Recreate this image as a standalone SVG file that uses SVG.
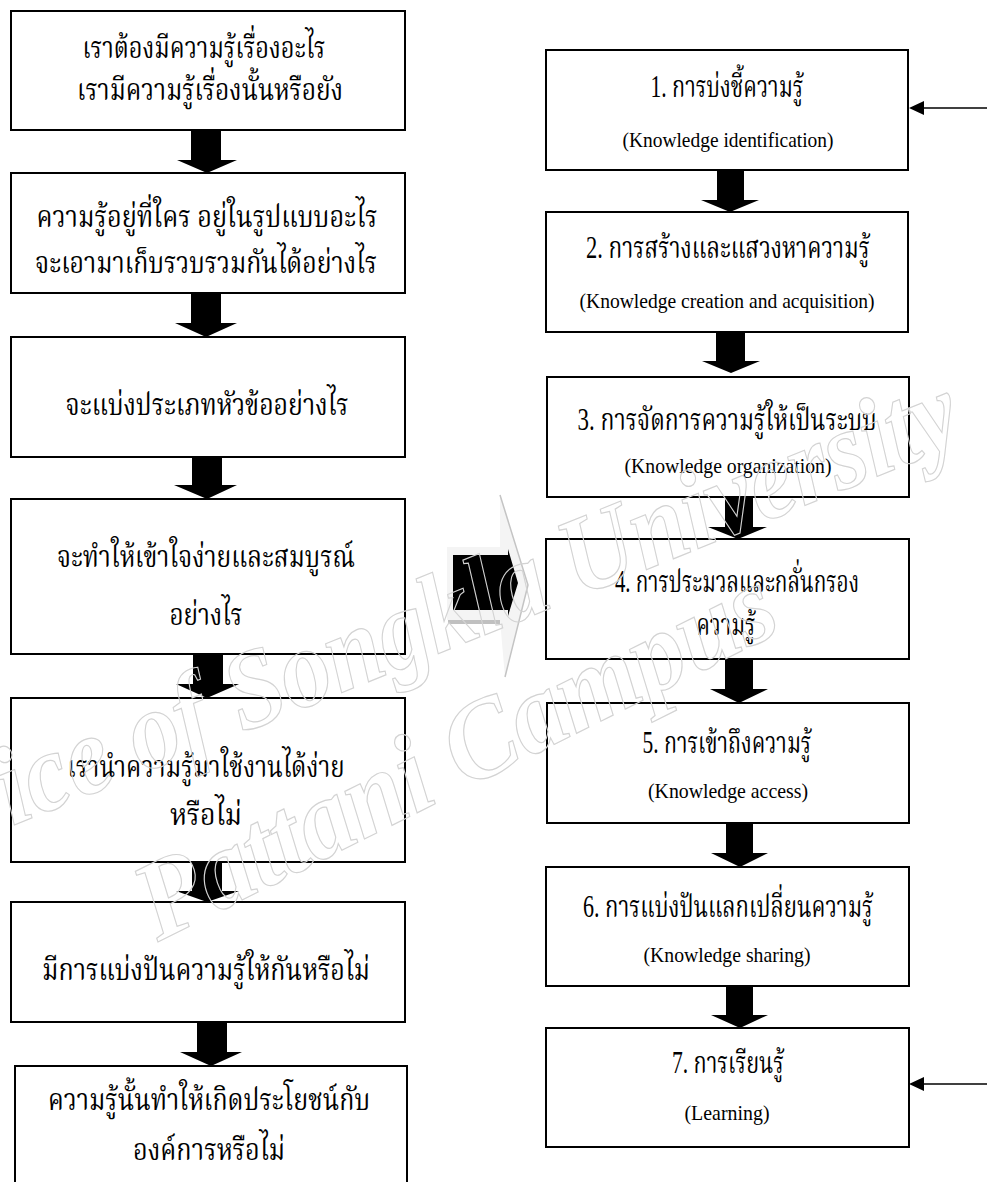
<svg xmlns="http://www.w3.org/2000/svg" width="987" height="1182" viewBox="0 0 987 1182">
<style>
.box{fill:#fff;stroke:#000;stroke-width:2}
.th{font-family:"Liberation Serif","Noto Serif Thai","Noto Sans Thai",serif;font-size:31px;fill:#000;text-anchor:middle}
.en{font-family:"Liberation Serif",serif;font-size:22px;fill:#000;text-anchor:middle}
.blk{fill:#000}
.wm{font-family:"Liberation Serif",serif;font-style:italic;font-weight:bold;font-size:112px;fill:none;stroke:#d3d3d3;stroke-width:1.2}
.fb{stroke:#000;stroke-width:1.5;fill:none}
</style>
<rect width="987" height="1182" fill="#fff"/>

<g id="big-arrow">
<polygon points="447,547 500,547 500,495 528,585 505,677 500,620 447,620" fill="#f4f4f4"/>
<polyline points="500,495 528,585 505,677" fill="none" stroke="#c4c4c4" stroke-width="1.5"/>
<rect x="448" y="620" width="52" height="4" fill="#c0c0c0"/>
<polygon points="453,555 508,555 508,549 518,583 508,616 508,610 453,610" fill="#000"/>
</g>

<g id="connectors">
<polygon class="blk" points="191,130 221,130 221,160 237,160 207,173 177,160 191,160"/>
<polygon class="blk" points="191,293 221,293 221,323 237,323 206,337 175,323 191,323"/>
<polygon class="blk" points="192,457 222,457 222,485 237,485 207,499 174,485 192,485"/>
<polygon class="blk" points="193,654 223,654 223,684 239,684 207,698 176,684 193,684"/>
<polygon class="blk" points="192,862 222,862 222,891 239,891 207,902 176,891 192,891"/>
<polygon class="blk" points="197,1022 227,1022 227,1052 242,1052 211,1066 180,1052 197,1052"/>
<polygon class="blk" points="717,170 744,170 744,200 759,200 730,212 701,200 717,200"/>
<polygon class="blk" points="716,332 745,332 745,361 760,361 731,373 702,361 716,361"/>
<polygon class="blk" points="725,497 753,497 753,527 767,527 738,539 708,527 725,527"/>
<polygon class="blk" points="725,659 753,659 753,689 768,689 739,703 710,689 725,689"/>
<polygon class="blk" points="726,823 753,823 753,853 768,853 740,867 711,853 726,853"/>
<polygon class="blk" points="726,986 753,986 753,1015 768,1015 740,1028 711,1015 726,1015"/>
<line class="fb" x1="987" y1="108" x2="922" y2="108"/>
<polygon class="blk" points="909,108 924,101 924,115"/>
<line class="fb" x1="987" y1="1084" x2="922" y2="1084"/>
<polygon class="blk" points="909,1084 924,1077 924,1091"/>
</g>

<g id="L1"><rect class="box" x="11" y="11" width="394" height="119"/>
<text class="th" x="204" y="58" textLength="243" lengthAdjust="spacingAndGlyphs">เราต้องมีความรู้เรื่องอะไร</text>
<text class="th" x="210" y="100" textLength="266" lengthAdjust="spacingAndGlyphs">เรามีความรู้เรื่องนั้นหรือยัง</text></g>
<g id="L2"><rect class="box" x="11" y="173" width="394" height="120"/>
<text class="th" x="207" y="227" textLength="341" lengthAdjust="spacingAndGlyphs">ความรู้อยู่ที่ใคร อยู่ในรูปแบบอะไร</text>
<text class="th" x="206" y="273" textLength="342" lengthAdjust="spacingAndGlyphs">จะเอามาเก็บรวบรวมกันได้อย่างไร</text></g>
<g id="L3"><rect class="box" x="11" y="337" width="394" height="120"/>
<text class="th" x="207" y="415" textLength="283" lengthAdjust="spacingAndGlyphs">จะแบ่งประเภทหัวข้ออย่างไร</text></g>
<g id="L4"><rect class="box" x="11" y="499" width="394" height="155"/>
<text class="th" x="206" y="567" textLength="298" lengthAdjust="spacingAndGlyphs">จะทำให้เข้าใจง่ายและสมบูรณ์</text>
<text class="th" x="206" y="625" textLength="73" lengthAdjust="spacingAndGlyphs">อย่างไร</text></g>
<g id="L5"><rect class="box" x="11" y="698" width="394" height="164"/>
<text class="th" x="206" y="777" textLength="277" lengthAdjust="spacingAndGlyphs">เรานำความรู้มาใช้งานได้ง่าย</text>
<text class="th" x="206" y="825" textLength="72" lengthAdjust="spacingAndGlyphs">หรือไม่</text></g>
<g id="L6"><rect class="box" x="11" y="902" width="394" height="120"/>
<text class="th" x="206" y="980" textLength="328" lengthAdjust="spacingAndGlyphs">มีการแบ่งปันความรู้ให้กันหรือไม่</text></g>
<g id="L7"><rect class="box" x="15" y="1066" width="392" height="130"/>
<text class="th" x="209" y="1110" textLength="322" lengthAdjust="spacingAndGlyphs">ความรู้นั้นทำให้เกิดประโยชน์กับ</text>
<text class="th" x="209" y="1160" textLength="152" lengthAdjust="spacingAndGlyphs">องค์การหรือไม่</text></g>

<g id="R1"><rect class="box" x="546" y="50" width="362" height="120"/>
<text class="th" x="727" y="97" textLength="153" lengthAdjust="spacingAndGlyphs">1. การบ่งชี้ความรู้</text>
<text class="en" x="728" y="147" textLength="211" lengthAdjust="spacingAndGlyphs">(Knowledge identification)</text></g>
<g id="R2"><rect class="box" x="546" y="212" width="362" height="120"/>
<text class="th" x="728" y="258" textLength="284" lengthAdjust="spacingAndGlyphs">2. การสร้างและแสวงหาความรู้</text>
<text class="en" x="727" y="308" textLength="295" lengthAdjust="spacingAndGlyphs">(Knowledge creation and acquisition)</text></g>
<g id="R3"><rect class="box" x="547" y="377" width="362" height="120"/>
<text class="th" x="727" y="430" textLength="299" lengthAdjust="spacingAndGlyphs">3. การจัดการความรู้ให้เป็นระบบ</text>
<text class="en" x="728" y="473" textLength="207" lengthAdjust="spacingAndGlyphs">(Knowledge organization)</text></g>
<g id="R4"><rect class="box" x="546" y="539" width="363" height="120"/>
<text class="th" x="737" y="592" textLength="244" lengthAdjust="spacingAndGlyphs">4. การประมวลและกลั่นกรอง</text>
<text class="th" x="726" y="635" textLength="59" lengthAdjust="spacingAndGlyphs">ความรู้</text></g>
<g id="R5"><rect class="box" x="547" y="703" width="362" height="120"/>
<text class="th" x="727" y="753" textLength="169" lengthAdjust="spacingAndGlyphs">5. การเข้าถึงความรู้</text>
<text class="en" x="728" y="798" textLength="160" lengthAdjust="spacingAndGlyphs">(Knowledge access)</text></g>
<g id="R6"><rect class="box" x="546" y="867" width="363" height="119"/>
<text class="th" x="728" y="917" textLength="290" lengthAdjust="spacingAndGlyphs">6. การแบ่งปันแลกเปลี่ยนความรู้</text>
<text class="en" x="727" y="962" textLength="167" lengthAdjust="spacingAndGlyphs">(Knowledge sharing)</text></g>
<g id="R7"><rect class="box" x="546" y="1028" width="363" height="119"/>
<text class="th" x="728" y="1073" textLength="112" lengthAdjust="spacingAndGlyphs">7. การเรียนรู้</text>
<text class="en" x="727" y="1120" textLength="85" lengthAdjust="spacingAndGlyphs">(Learning)</text></g>

<g id="watermark">
<text class="wm" x="12" y="826" transform="rotate(-22 12 826)" textLength="1030" lengthAdjust="spacingAndGlyphs">ice of Songkla University</text>
<text class="wm" x="158" y="942" transform="rotate(-26.5 158 942)" textLength="700" lengthAdjust="spacingAndGlyphs">Pattani Campus</text>
</g>
</svg>
